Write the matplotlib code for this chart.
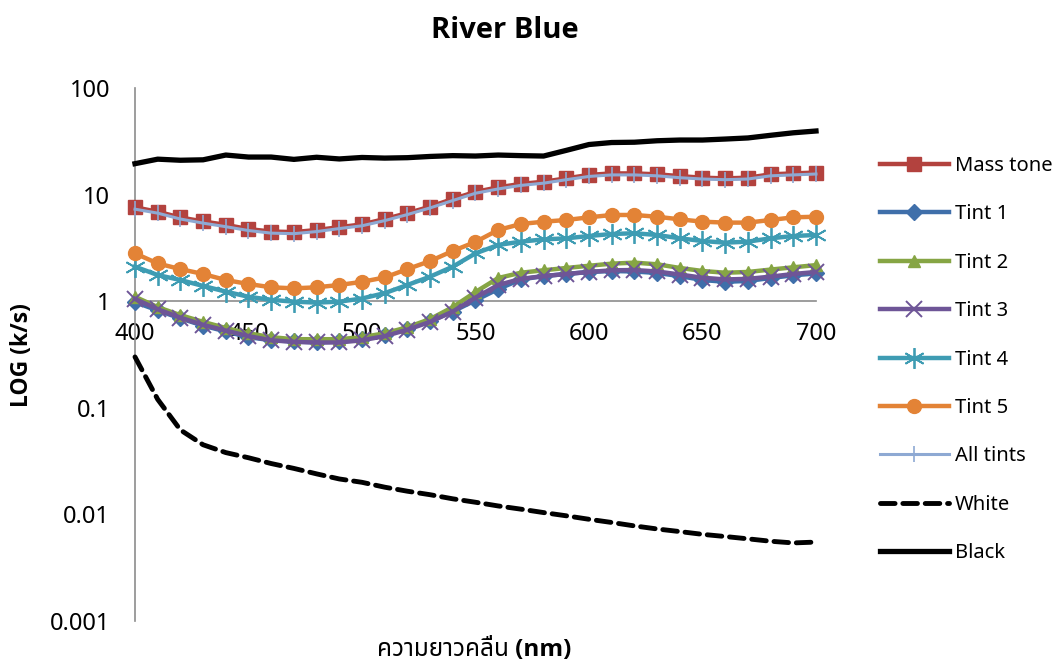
import numpy as np
import matplotlib.pyplot as plt
from matplotlib.ticker import FixedLocator, FixedFormatter, NullLocator

# -------------------------------
# Data (k/s vs wavelength)
# -------------------------------
wavelength = list(range(400, 701, 10))

mass_tone = [7.6, 6.9, 6.1, 5.6, 5.2, 4.75, 4.5, 4.45, 4.65, 4.95, 5.25,
             5.9, 6.7, 7.7, 9.1, 10.6, 11.7, 12.6, 13.2, 14.2, 15.3,
             15.8, 15.8, 15.5, 14.9, 14.4, 14.2, 14.4, 15.5, 15.8, 16.1]
tint1 = [0.98, 0.82, 0.69, 0.59, 0.52, 0.46, 0.43, 0.42, 0.41, 0.42, 0.44,
         0.48, 0.55, 0.65, 0.80, 1.02, 1.30, 1.60, 1.72, 1.80, 1.88,
         1.92, 1.90, 1.84, 1.72, 1.58, 1.52, 1.55, 1.65, 1.75, 1.82]
tint2 = [1.10, 0.88, 0.74, 0.64, 0.56, 0.50, 0.46, 0.44, 0.44, 0.44, 0.46,
         0.50, 0.57, 0.68, 0.88, 1.22, 1.65, 1.85, 1.95, 2.05, 2.15,
         2.25, 2.30, 2.22, 2.05, 1.92, 1.85, 1.88, 1.98, 2.08, 2.18]
tint3 = [1.05, 0.84, 0.70, 0.60, 0.53, 0.47, 0.43, 0.415, 0.41, 0.41, 0.43,
         0.47, 0.54, 0.64, 0.80, 1.08, 1.42, 1.62, 1.72, 1.80, 1.88,
         1.95, 1.96, 1.90, 1.78, 1.66, 1.60, 1.62, 1.70, 1.80, 1.88]
tint4 = [2.11, 1.76, 1.58, 1.39, 1.23, 1.10, 1.03, 0.99, 0.97, 0.99, 1.06,
         1.19, 1.42, 1.70, 2.11, 2.81, 3.37, 3.62, 3.80, 3.89, 4.09,
         4.27, 4.34, 4.18, 3.89, 3.67, 3.54, 3.62, 3.89, 4.09, 4.18]
tint5 = [2.81, 2.26, 2.00, 1.80, 1.58, 1.45, 1.35, 1.32, 1.35, 1.42, 1.52,
         1.67, 2.00, 2.38, 2.96, 3.60, 4.66, 5.30, 5.57, 5.78, 6.12,
         6.44, 6.44, 6.20, 5.86, 5.57, 5.46, 5.46, 5.78, 6.12, 6.20]
all_tints = [7.3, 6.7, 5.9, 5.4, 5.0, 4.6, 4.35, 4.3, 4.5, 4.8, 5.1,
             5.7, 6.5, 7.5, 8.8, 10.3, 11.3, 12.2, 12.8, 13.8, 14.8,
             15.3, 15.3, 15.0, 14.4, 14.0, 13.8, 14.0, 15.0, 15.3, 15.6]
white = [0.30, 0.12, 0.062, 0.045, 0.038, 0.034, 0.030, 0.027, 0.024, 0.0215,
         0.020, 0.018, 0.0165, 0.0153, 0.0140, 0.0130, 0.0120, 0.0112, 0.0104,
         0.0097, 0.0090, 0.0084, 0.0078, 0.0073, 0.0069, 0.0065, 0.0062,
         0.0059, 0.0056, 0.0054, 0.0055]
black = [19.5, 21.5, 21.0, 21.2, 23.5, 22.5, 22.5, 21.4, 22.4, 21.6, 22.3,
         22.0, 22.2, 22.8, 23.2, 23.0, 23.5, 23.2, 23.0, 26.0, 29.5,
         30.8, 31.0, 32.0, 32.5, 32.5, 33.2, 34.0, 36.0, 38.0, 39.5]

y_ticks = [0.001, 0.01, 0.1, 1, 10, 100]
y_tick_labels = ["0.001", "0.01", "0.1", "1", "10", "100"]
x_ticks = [400, 450, 500, 550, 600, 650, 700]

# Latin glyphs from Noto Sans, Thai glyphs from a fallback
FONT = ["Noto Sans", "Noto Sans Thai", "Loma", "Garuda", "Tlwg Typo", "DejaVu Sans"]
BOLD_FONT = ["Open Sans", "Roboto", "Noto Sans Thai", "Loma", "Garuda", "DejaVu Sans"]
plt.rcParams["font.family"] = FONT

# -------------------------------
# Plot
# -------------------------------
fig = plt.figure(figsize=(10.62, 6.63), dpi=100)
ax = fig.add_axes([135 / 1062, 1 - 621 / 663, (816 - 135) / 1062, (621 - 88) / 663])

ax.plot(wavelength, mass_tone, color="#B3423E", lw=3.2, marker="s", ms=10,
        label="Mass tone", zorder=3)
ax.plot(wavelength, tint1, color="#3F6FAA", lw=3.2, marker="D", ms=8,
        label="Tint 1", zorder=3)
ax.plot(wavelength, tint2, color="#86A544", lw=3.2, marker="^", ms=9,
        label="Tint 2", zorder=3)
ax.plot(wavelength, tint3, color="#6E5597", lw=3.2, marker="x", ms=12,
        mew=1.4, label="Tint 3", zorder=3)
ax.plot(wavelength, tint4, color="#3E9CB3", lw=3.2, marker=(6, 2, 0), ms=15,
        mew=1.3, label="Tint 4", zorder=3)
ax.plot(wavelength, tint5, color="#E38336", lw=3.2, marker="o", ms=10,
        label="Tint 5", zorder=3)
ax.plot(wavelength, all_tints, color="#8EA9D3", lw=2.2, marker="|", ms=12,
        mew=1.2, label="All tints", zorder=3)
ax.plot(wavelength, white, color="black", lw=3.5, ls=(0, (3, 1.6)),
        dash_capstyle="round", label="White", zorder=3)
ax.plot(wavelength, black, color="black", lw=3.8, label="Black", zorder=3)

ax.set_yscale("log")
ax.set_ylim(0.001, 100)
ax.set_xlim(400, 700)
ax.yaxis.set_major_locator(FixedLocator(y_ticks))
ax.yaxis.set_major_formatter(FixedFormatter(y_tick_labels))
ax.yaxis.set_minor_locator(NullLocator())
ax.set_xticks(x_ticks)
ax.tick_params(axis="both", length=0, labelsize=17)
ax.tick_params(axis="y", pad=18)
ax.tick_params(axis="x", pad=15)

# axis crosses at 1, Excel style
for side in ("top", "right"):
    ax.spines[side].set_visible(False)
ax.spines["bottom"].set_position(("data", 1))
ax.spines["bottom"].set_color("#8C8C8C")
ax.spines["left"].set_color("#8C8C8C")
ax.spines["bottom"].set_linewidth(1.2)
ax.spines["left"].set_linewidth(1.2)
for line in ax.lines:
    line.set_clip_on(False)

fig.text(505 / 1062, 1 - 30 / 663, "River Blue", ha="center", va="center",
         fontsize=21, fontweight="bold", family=BOLD_FONT)
fig.text(22 / 1062, 1 - 355 / 663, "LOG (k/s)", ha="center", va="center",
         rotation=90, fontsize=16.5, fontweight="bold", family=BOLD_FONT)
fig.text(474 / 1062, 1 - 650 / 663, "ความยาวคลื่น (nm)", ha="center",
         va="center", fontsize=17.5, fontweight="bold", family=BOLD_FONT)

fig.legend(loc="upper left", bbox_to_anchor=(870 / 1062, 1 - 146 / 663),
           frameon=False, fontsize=14.5, handlelength=3.4, labelspacing=1.41,
           handletextpad=0.3, borderpad=0)

fig.savefig("out.png", dpi=100)
